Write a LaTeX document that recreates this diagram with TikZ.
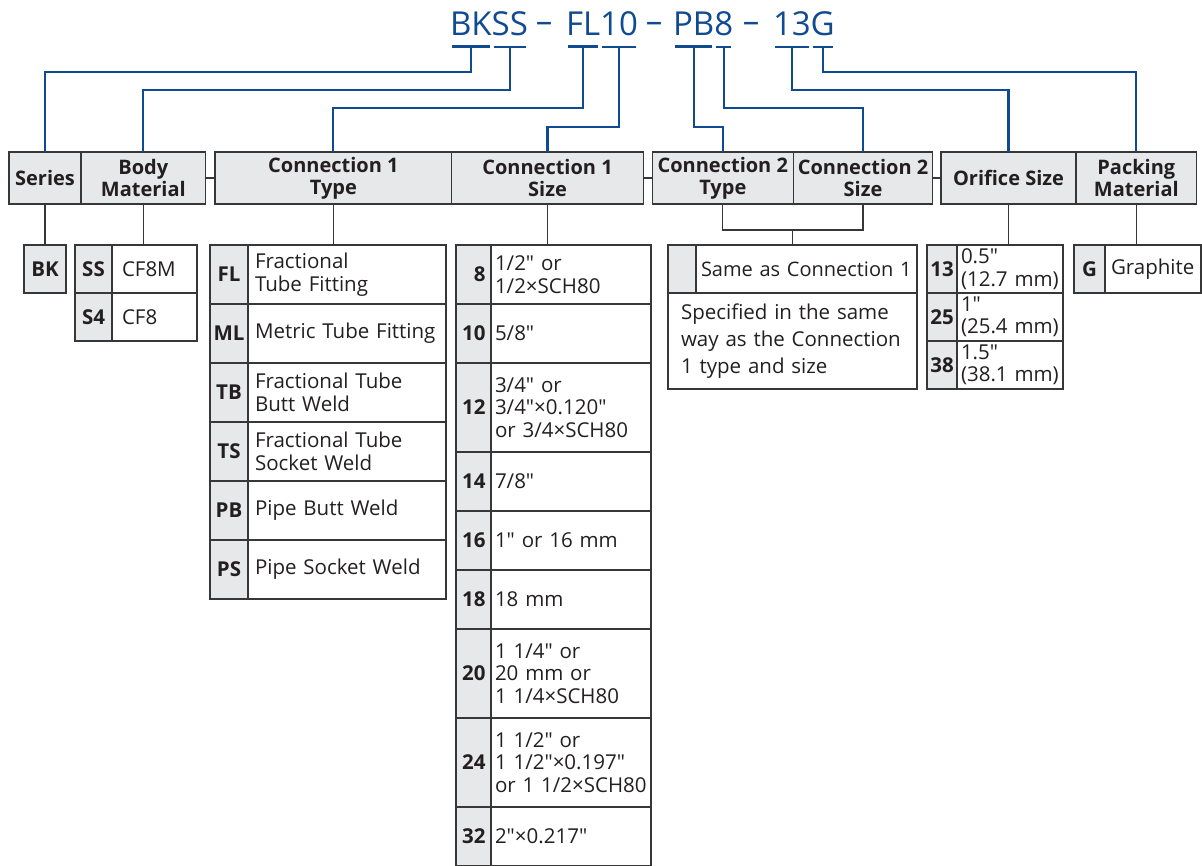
\documentclass[tikz,border=0pt]{standalone}
\usepackage{fontspec}
\setmainfont{Open Sans}[Ligatures=TeXOff]
\usetikzlibrary{positioning}

\definecolor{ordblue}{RGB}{16,75,145}
\definecolor{cellgray}{RGB}{231,232,233}
\definecolor{rule}{RGB}{55,55,55}
\definecolor{ink}{RGB}{35,31,32}

\newcommand{\ttlfont}{\fontsize{33}{38}\selectfont}
\newcommand{\hdrfont}{\bfseries\fontsize{20}{22}\selectfont}
\newcommand{\codefont}{\bfseries\fontsize{20.5}{22.5}\selectfont}
\newcommand{\txtfont}{\fontsize{20.5}{22.5}\selectfont}

\begin{document}
\begin{tikzpicture}[x=1pt, y=-1pt, node distance=0pt, text=ink,
    ttl/.style={font=\ttlfont, text=ordblue, inner sep=0pt, outer sep=0pt},
    bar/.style={draw=ordblue, line width=2.5pt},
    link/.style={draw=ordblue, line width=2.2pt},
    edge/.style={draw=rule, line width=1.3pt},
    hdr/.style={draw=rule, fill=cellgray, line width=1.3pt, font=\hdrfont, align=center, inner sep=0pt, outer sep=0pt, minimum height=52pt},
    code/.style={draw=rule, fill=cellgray, line width=1.2pt, font=\codefont, inner sep=0pt, outer sep=0pt},
    sizecode/.style={code, text width=24pt, inner xsep=5.5pt, align=right},
    desc/.style={draw=rule, line width=1.2pt, font=\txtfont, align=left, inner ysep=0pt, inner xsep=5pt, outer sep=0pt}]
        \useasboundingbox (0,0) rectangle (1202,865);

        % ordering code
        \node[ttl, anchor=base west] (tBK) at (450,35) {BK};
        \node[ttl, anchor=base west] (tSS) at (tBK.base east) {SS};
        \node[ttl, anchor=base] (dash1) at (544,35) {\raisebox{3pt}{–}};
        \node[ttl, anchor=base west] (tFL) at (566,35) {FL};
        \node[ttl, anchor=base west] (t10) at (tFL.base east) {10};
        \node[ttl, anchor=base] (dash2) at (654,35) {\raisebox{3pt}{–}};
        \node[ttl, anchor=base west] (tPB) at (673,35) {PB};
        \node[ttl, anchor=base west] (t8) at (tPB.base east) {8};
        \node[ttl, anchor=base] (dash3) at (751,35) {\raisebox{3pt}{–}};
        \node[ttl, anchor=base west] (t13) at (773,35) {13};
        \node[ttl, anchor=base west] (tG) at (t13.base east) {G};

        % headings
        \node[hdr, minimum width=72pt] (series) at (45,178) {Series};
        \node[hdr, minimum width=124.7pt, right=of series] (body) {Body\\Material};
        \node[hdr, minimum width=236.7pt] (c1type) at (333.35,178) {Connection 1\\Type};
        \node[hdr, minimum width=191.6pt, right=of c1type] (c1size) {Connection 1\\Size};
        \node[hdr, minimum width=141pt] (c2type) at (722.8,178) {Connection 2\\Type};
        \node[hdr, minimum width=139.5pt, right=of c2type] (c2size) {Connection 2\\Size};
        \node[hdr, minimum width=135pt] (orifice) at (1008.5,178) {Orifice Size};
        \node[hdr, minimum width=120.7pt, right=of orifice] (packing) {Packing\\Material};

        % series and body
        \node[code, minimum width=42pt, minimum height=48pt, anchor=north west] (cBK) at (24,245) {BK};
        \node[code, minimum width=37pt, minimum height=48pt, anchor=north west] (cSS) at (75,245) {SS};
        \node[desc, text width=65pt, inner xsep=10pt, minimum height=48pt, right=of cSS] (dSS) {CF8M};
        \node[code, minimum width=37pt, minimum height=48pt, below=of cSS] (cS4) {S4};
        \node[desc, text width=65pt, inner xsep=10pt, minimum height=48pt, right=of cS4] (dS4) {CF8};

        % connection 1 type
        \node[code, minimum width=38pt, minimum height=59pt, anchor=north west] (cFL) at (210,245) {FL};
        \node[desc, text width=184pt, inner xsep=7pt, minimum height=59pt, right=of cFL] (dFL) {Fractional\\Tube Fitting};
        \node[code, minimum width=38pt, minimum height=59pt, below=of cFL] (cML) {ML};
        \node[desc, text width=184pt, inner xsep=7pt, minimum height=59pt, right=of cML] (dML) {Metric Tube Fitting};
        \node[code, minimum width=38pt, minimum height=59pt, below=of cML] (cTB) {TB};
        \node[desc, text width=184pt, inner xsep=7pt, minimum height=59pt, right=of cTB] (dTB) {Fractional Tube\\Butt Weld};
        \node[code, minimum width=38pt, minimum height=59pt, below=of cTB] (cTS) {TS};
        \node[desc, text width=184pt, inner xsep=7pt, minimum height=59pt, right=of cTS] (dTS) {Fractional Tube\\Socket Weld};
        \node[code, minimum width=38pt, minimum height=59pt, below=of cTS] (cPB) {PB};
        \node[desc, text width=184pt, inner xsep=7pt, minimum height=59pt, right=of cPB] (dPB) {Pipe Butt Weld};
        \node[code, minimum width=38pt, minimum height=59pt, below=of cPB] (cPS) {PS};
        \node[desc, text width=184pt, inner xsep=7pt, minimum height=59pt, right=of cPS] (dPS) {Pipe Socket Weld};

        % connection 1 size
        \node[sizecode, minimum height=59pt, anchor=north west] (c8) at (456,245) {8};
        \node[desc, text width=152pt, inner xsep=4pt, minimum height=59pt, right=of c8] (d8) {1/2" or\\1/2×SCH80};
        \node[sizecode, minimum height=59pt, below=of c8] (c10) {10};
        \node[desc, text width=152pt, inner xsep=4pt, minimum height=59pt, right=of c10] (d10) {5/8"};
        \node[sizecode, minimum height=89pt, below=of c10] (c12) {12};
        \node[desc, text width=152pt, inner xsep=4pt, minimum height=89pt, right=of c12] (d12) {3/4" or\\3/4"×0.120"\\or~3/4×SCH80};
        \node[sizecode, minimum height=59pt, below=of c12] (c14) {14};
        \node[desc, text width=152pt, inner xsep=4pt, minimum height=59pt, right=of c14] (d14) {7/8"};
        \node[sizecode, minimum height=59pt, below=of c14] (c16) {16};
        \node[desc, text width=152pt, inner xsep=4pt, minimum height=59pt, right=of c16] (d16) {1" or 16~mm};
        \node[sizecode, minimum height=59pt, below=of c16] (c18) {18};
        \node[desc, text width=152pt, inner xsep=4pt, minimum height=59pt, right=of c18] (d18) {18~mm};
        \node[sizecode, minimum height=89pt, below=of c18] (c20) {20};
        \node[desc, text width=152pt, inner xsep=4pt, minimum height=89pt, right=of c20] (d20) {1~1/4" or\\20~mm or\\1~1/4×SCH80};
        \node[sizecode, minimum height=89pt, below=of c20] (c24) {24};
        \node[desc, text width=152pt, inner xsep=4pt, minimum height=89pt, right=of c24] (d24) {1~1/2" or\\1~1/2"×0.197"\\or~1~1/2×SCH80};
        \node[sizecode, minimum height=59pt, below=of c24] (c32) {32};
        \node[desc, text width=152pt, inner xsep=4pt, minimum height=59pt, right=of c32] (d32) {2"×0.217"};

        % connection 2
        \node[code, minimum width=28pt, minimum height=48pt, anchor=north west] (cSame) at (668,245) {};
        \node[desc, text width=211pt, minimum height=48pt, right=of cSame, font=\fontsize{20}{22.5}\selectfont] (dSame) {\mbox{Same as Connection 1}};
        \node[desc, text width=223pt, inner xsep=13pt, minimum height=96pt, anchor=north west, font=\fontsize{20.5}{26.7}\selectfont] (dSpec) at (cSame.south west) {Specified in the same\\way as the Connection\\1 type and size};

        % orifice and packing
        \node[code, minimum width=30pt, minimum height=48pt, anchor=north west] (c13) at (927,245) {13};
        \node[desc, text width=98pt, inner xsep=4pt, minimum height=48pt, right=of c13] (d13) {0.5"\\(12.7~mm)};
        \node[code, minimum width=30pt, minimum height=48pt, below=of c13] (c25) {25};
        \node[desc, text width=98pt, inner xsep=4pt, minimum height=48pt, right=of c25] (d25) {1"\\(25.4~mm)};
        \node[code, minimum width=30pt, minimum height=48pt, below=of c25] (c38) {38};
        \node[desc, text width=98pt, inner xsep=4pt, minimum height=48pt, right=of c38] (d38) {1.5"\\(38.1~mm)};
        \node[code, minimum width=31pt, minimum height=48pt, anchor=north west] (cG) at (1074,245) {G};
        \node[desc, text width=84pt, inner xsep=6pt, minimum height=48pt, right=of cG] (dG) {Graphite};

        % bars under the code
        \draw[bar] ([shift={(2,11.5)}]tBK.south west) -- ([shift={(-2,11.5)}]tBK.south east);
        \draw[bar] ([shift={(2,11.5)}]tSS.south west) -- ([shift={(-2,11.5)}]tSS.south east);
        \draw[bar] ([shift={(2,11.5)}]tFL.south west) -- ([shift={(-2,11.5)}]tFL.south east);
        \draw[bar] ([shift={(2,11.5)}]t10.south west) -- ([shift={(-2,11.5)}]t10.south east);
        \draw[bar] ([shift={(2,11.5)}]tPB.south west) -- ([shift={(-2,11.5)}]tPB.south east);
        \draw[bar] ([shift={(2,11.5)}]t8.south west) -- ([shift={(-2,11.5)}]t8.south east);
        \draw[bar] ([shift={(2,11.5)}]t13.south west) -- ([shift={(-2,11.5)}]t13.south east);
        \draw[bar] ([shift={(2,11.5)}]tG.south west) -- ([shift={(-2,11.5)}]tG.south east);

        % code to heading
        \draw[link] ([shift={(0,11.5)}]tBK.south) -- ++(0,25.5) -| (series.north);
        \draw[link] ([shift={(0,11.5)}]tSS.south) -- ++(0,43.5) -| (body.north);
        \draw[link] ([shift={(0,11.5)}]tFL.south) -- ++(0,61.5) -| (c1type.north);
        \draw[link] ([shift={(0,11.5)}]t10.south) -- ++(0,80.5) -| (c1size.north);
        \draw[link] ([shift={(0,11.5)}]tPB.south) -- ++(0,80.5) -| (c2type.north);
        \draw[link] ([shift={(0,11.5)}]t8.south) -- ++(0,61.5) -| (c2size.north);
        \draw[link] ([shift={(0,11.5)}]t13.south) -- ++(0,43.5) -| (orifice.north);
        \draw[link] ([shift={(0,11.5)}]tG.south) -- ++(0,25.5) -| (packing.north);

        % heading to table
        \draw[edge] (body.east) -- (c1type.west);
        \draw[edge] (c1size.east) -- (c2type.west);
        \draw[edge] (c2size.east) -- (orifice.west);
        \draw[edge] (series.south) -- (series.south |- cBK.north);
        \draw[edge] (body.south) -- (body.south |- cSS.north);
        \draw[edge] (c1type.south) -- (c1type.south |- cFL.north);
        \draw[edge] (c1size.south) -- (c1size.south |- c8.north);
        \draw[edge] (c2type.south) -- ++(0,26) coordinate (fork2) -| (c2size.south);
        \draw[edge] (fork2 -| dSpec.north) -- (cSame.north -| dSpec.north);
        \draw[edge] (orifice.south) -- (orifice.south |- c13.north);
        \draw[edge] (packing.south) -- (packing.south |- cG.north);
      \end{tikzpicture}
\end{document}
